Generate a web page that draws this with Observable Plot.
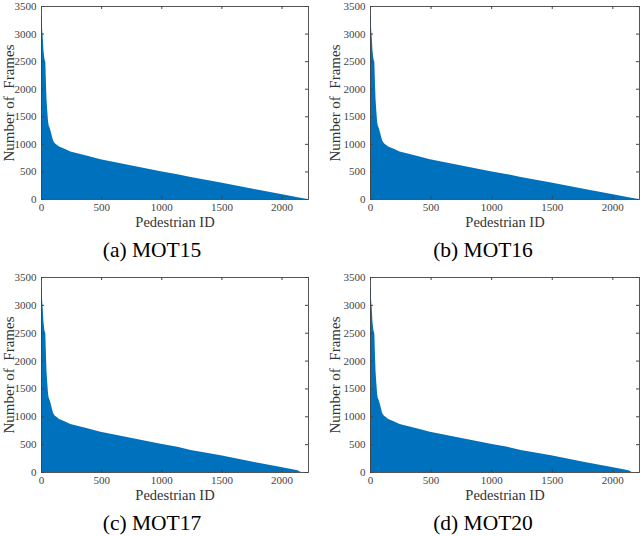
<!DOCTYPE html>
<html>
<head>
<meta charset="utf-8">
<script src="https://cdn.jsdelivr.net/npm/d3@7"></script>
<script src="https://cdn.jsdelivr.net/npm/@observablehq/plot@0.6"></script>
<style>
  body { margin: 0; background: #fff; }
  #grid { display: grid; grid-template-columns: 320px 320px; width: 640px; }
  .cap { height: 33px; font: 21.5px "Liberation Serif", serif; color: #000; text-align: center; line-height: 20px; }
</style>
</head>
<body>
<div id="grid"></div>
<script>
// pedestrian ids (sorted by track length) and frame counts
const ids = [0, 5, 10, 14, 20, 28, 36, 41, 46, 52, 58, 63, 75, 86, 100, 115, 128, 150, 200, 244, 327, 400, 494, 661, 827, 994, 1133, 1244, 1494, 1772, 1994, 2133]
const frames = [3340, 3300, 3050, 2950, 2700, 2550, 2480, 2100, 1800, 1600, 1420, 1340, 1270, 1180, 1060, 1010, 990, 950, 905, 860, 818, 775, 722, 650, 578, 505, 451, 397, 300, 180, 90, 30]

// last pedestrian id per dataset (where the count reaches 0)
const lastId = {MOT15: 2216, MOT16: 2216, MOT17: 2160, MOT20: 2160}

const panels = ['MOT15', 'MOT16', 'MOT17', 'MOT20']
const letters = ['a', 'b', 'c', 'd']
const xTicks = [0, 500, 1000, 1500, 2000]
const yTicks = [0, 500, 1000, 1500, 2000, 2500, 3000, 3500]

const serif = '"Liberation Serif", "Times New Roman", serif'
const grid = d3.select('#grid')

panels.forEach((name, i) => {
  const right = i % 2 == 1
  const top = i < 2
  const n = lastId[name]
  // bottom row tail ends a bit earlier
  const data = ids.map((id, k) => ({id, f: frames[k]}))
    .filter(d => d.id < n - 20)
    .concat([{id: n, f: 0}])

  const mL = right ? 50 : 41
  const mR = right ? 1 : 12
  const mT = top ? 6 : 4
  const mB = 41
  const h = 240
  const ph = h - mT - mB
  const pw = 320 - mL - mR

  let chart = Plot.plot({
    width: 320,
    height: h,
    marginLeft: mL,
    marginRight: mR,
    marginTop: mT,
    marginBottom: mB,
    style: `font-family: ${serif}; font-size: 11px; color: #444; background: white; overflow: visible;`,
    x: {domain: [0, 2220]},
    y: {domain: [0, 3500]},
    marks: [
      Plot.areaY(data, {x: 'id', y: 'f', fill: '#0072BD'}),
      Plot.frame({stroke: '#444', strokeWidth: 0.9}),
      // inward ticks on all four sides
      Plot.tickX(xTicks, {x: d => d, stroke: '#444', insetTop: ph - 3}),
      Plot.tickX(xTicks, {x: d => d, stroke: '#444', insetBottom: ph - 3}),
      Plot.tickY(yTicks, {y: d => d, stroke: '#444', insetRight: pw - 3}),
      Plot.tickY(yTicks, {y: d => d, stroke: '#444', insetLeft: pw - 3}),
      Plot.axisX(xTicks, {tickSize: 0, tickPadding: 4, tickFormat: 'd', label: null, fontFamily: serif, fontSize: 11}),
      Plot.axisY(yTicks, {tickSize: 0, tickPadding: 5, tickFormat: 'd', label: null, fontFamily: serif, fontSize: 11}),
      Plot.text(['Pedestrian ID'], {frameAnchor: 'bottom', dy: 27, fontSize: 14.5, fontFamily: serif, fill: '#333'}),
      Plot.text(['Number of  Frames'], {frameAnchor: 'left', textAnchor: 'middle', rotate: -90, dx: right ? -35 : -32, fontSize: 15, fontFamily: serif, fill: '#333'}),
    ],
  })

  const cell = grid.append('div')
  cell.append(() => chart)
  cell.append('div').attr('class', 'cap')
    .style('padding-right', right ? '0px' : '16px')
    .style('padding-left', right ? '6px' : '0px')
    .text('(' + letters[i] + ') ' + name)
})
</script>
</body>
</html>
